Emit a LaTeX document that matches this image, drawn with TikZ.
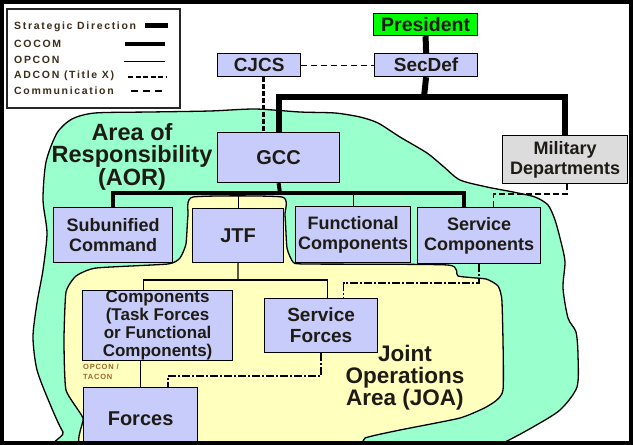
\documentclass[tikz,border=0pt]{standalone}
\usepackage{fontspec}
\setmainfont{Liberation Sans}
\definecolor{boxblue}{HTML}{C7CCFA}
\definecolor{aorgreen}{HTML}{99FFCC}
\definecolor{joayellow}{HTML}{FFFFBE}
\definecolor{presgreen}{HTML}{00FF00}
\definecolor{mdgray}{HTML}{DCDCDC}
\definecolor{textc}{HTML}{1E1A14}
\definecolor{legc}{HTML}{3A2E1C}
\definecolor{opc}{HTML}{A0642A}
\begin{document}
\begin{tikzpicture}[x=1pt,y=-1pt,
  box/.style={draw=black, line width=1.2pt, fill=boxblue, inner sep=0pt, anchor=north west,
    align=center, text=textc, font=\bfseries\fontsize{18}{20}\selectfont},
  strat/.style={line width=6pt},
  cocom/.style={line width=4pt},
  opcon/.style={line width=1.2pt},
  adcon/.style={line width=1.5pt, dash pattern=on 6pt off 3pt},
  comm/.style={line width=1pt, dash pattern=on 6pt off 4pt},
  ddot/.style={line width=2.2pt, dash pattern=on 8pt off 2pt on 2pt off 2pt},
  ddotthin/.style={line width=1.6pt, dash pattern=on 8pt off 2pt on 2pt off 2pt},
  cjline/.style={line width=2.8pt, dash pattern=on 5pt off 2pt},
  legtext/.style={anchor=west, inner sep=0pt, text=legc,
    font=\bfseries\fontsize{10.5}{11}\selectfont\addfontfeature{LetterSpace=16}},
  region/.style={draw=black, line width=1.3pt}
]
\useasboundingbox (0,0) rectangle (633,445);
\fill[white] (0,0) rectangle (633,445);

% Area of Responsibility
\draw[region, fill=aorgreen] plot[smooth cycle, tension=0.45] coordinates {
  (57,133) (72,119) (95,113) (150,112) (210,111) (255,109) (300,112) (335,113) (360,117)
  (378,123) (400,137) (427,153) (444,167) (460,180) (487,187) (513,192) (535,197)
  (548,205) (555,220) (561,242) (565,262) (563,288) (568,318) (576,332) (578,355)
  (577,387) (560,410) (533,427) (505,442) (480,452) (80,452) (63,432) (50,404)
  (37,370) (33,337) (37,303) (43,270) (47,233) (43,200) (46,162)};

% Joint Operations Area
\draw[region, fill=joayellow] plot[smooth cycle, tension=0.3] coordinates {
  (193,197) (282,197) (285,215) (287,248) (293,262) (305,264) (448,265) (458,276)
  (486,279) (498,286) (502,302) (503,390) (488,406) (460,418) (400,430) (365,438)
  (345,452) (90,452) (83,418) (66,390) (64,340) (66,292) (76,276) (96,268) (168,264)
  (180,258) (186,244) (188,215)};

% Legend
\draw[line width=1.3pt, draw=black!85] (7,9) rectangle (180,108);
\node[legtext] (l1) at (14,27) {Strategic Direction};
\node[legtext] (l2) at (14,44) {COCOM};
\node[legtext] (l3) at (14,60) {OPCON};
\node[legtext] (l4) at (14,76) {ADCON (Title X)};
\node[legtext] (l5) at (14,91) {Communication};
\draw[line width=5pt] (145,25) -- (168,25);
\draw[line width=3.5pt] (125,44) -- (165,44);
\draw[line width=1pt] (124,61) -- (165,61);
\draw[line width=1.2pt, dash pattern=on 5pt off 2.5pt] (128,77) -- (166,77);
\draw[line width=1.2pt, dash pattern=on 7pt off 5pt] (131,91) -- (166,91);

% Nodes
\node[box, fill=presgreen, minimum width=104pt, minimum height=22pt,
  font=\bfseries\fontsize{19.5}{20}\selectfont] (pres) at (373,13) {President};
\node[box, minimum width=83pt, minimum height=23pt,
  font=\bfseries\fontsize{19}{20}\selectfont] (cjcs) at (217,53) {CJCS};
\node[box, minimum width=103pt, minimum height=23pt,
  font=\bfseries\fontsize{19}{20}\selectfont] (secdef) at (374,53) {SecDef};
\node[box, minimum width=122pt, minimum height=50pt,
  font=\bfseries\fontsize{20}{20}\selectfont] (gcc) at (217,132) {GCC};
\node[box, fill=mdgray, minimum width=125pt, minimum height=48pt] (mildep) at (502,135) {Military\\Departments};
\node[box, minimum width=119pt, minimum height=55pt] (sub) at (53,207) {Subunified\\Command};
\node[box, minimum width=91pt, minimum height=54pt,
  font=\bfseries\fontsize{20}{20}\selectfont] (jtf) at (192,208) {JTF};
\node[box, minimum width=115pt, minimum height=56pt] (fc) at (295,206) {Functional\\Components};
\node[box, minimum width=123pt, minimum height=56pt] (sc) at (417,207) {Service\\Components};
\node[box, minimum width=150pt, minimum height=70pt,
  font=\bfseries\fontsize{17}{18}\selectfont] (comp) at (82,290) {Components\\(Task Forces\\or Functional\\Components)};
\node[box, minimum width=113pt, minimum height=54pt,
  font=\bfseries\fontsize{19}{21}\selectfont] (sf) at (264,298) {Service\\Forces};
\node[box, minimum width=114pt, minimum height=62pt,
  font=\bfseries\fontsize{20}{20}\selectfont] (forces) at (83,387) {Forces};

% Region labels
\node[align=center, text=textc, font=\bfseries\fontsize{23.5}{21.5}\selectfont, inner sep=0pt] (aor) at (132,157) {Area of\\Responsibility\\(AOR)};
\node[align=center, text=textc, font=\bfseries\fontsize{22.5}{22}\selectfont, inner sep=0pt] (joa) at (405,378) {Joint\\Operations\\Area (JOA)};
\node[align=left, text=opc, inner sep=0pt, anchor=north west,
  font=\bfseries\fontsize{7.5}{10}\selectfont\addfontfeature{LetterSpace=10}] (optac) at (83,364) {OPCON /\\TACON};

% Connectors
\coordinate (bar1) at (424,97);
\coordinate (bar2) at (280,193);
\coordinate (bar3) at (238,280);
\draw[strat] (pres.south) -- (secdef.north);
\draw[strat] (secdef.south) -- (bar1);
\draw[strat, line join=miter] (gcc.north) |- (bar1) -| (mildep.north);
\draw[comm] (cjcs.east) -- (secdef.west);
\draw[cjline] ([xshift=4pt]cjcs.south) -- ([xshift=4pt]cjcs.south |- gcc.north);
\draw[cocom] (gcc.south) -- (bar2);
\draw[cocom, line join=miter] (sub.north) |- (bar2) -| ([xshift=-15pt]sc.north);
\draw[opcon] (jtf.north) -- (jtf.north |- bar2);
\draw[opcon] (fc.north) -- (fc.north |- bar2);
\draw[adcon] ([xshift=2pt]mildep.south) -- ++(0,10) -| ([xshift=14.5pt]sc.north);
\draw[opcon] (jtf.south) -- (bar3);
\draw[opcon] ([xshift=-14pt]comp.north) |- (bar3) -| ([xshift=6.5pt]sf.north);
\draw[opcon] (forces.north) -- (forces.north |- comp.south);
\draw[ddotthin] (sc.south) -- ++(0,19) -| ([xshift=22.5pt]sf.north);
\draw[ddot] (sf.south) -- ++(0,23) -| ([xshift=27pt]forces.north);

% Frame
\draw[line width=4pt] (2,2) rectangle (631,443);
\end{tikzpicture}
\end{document}
